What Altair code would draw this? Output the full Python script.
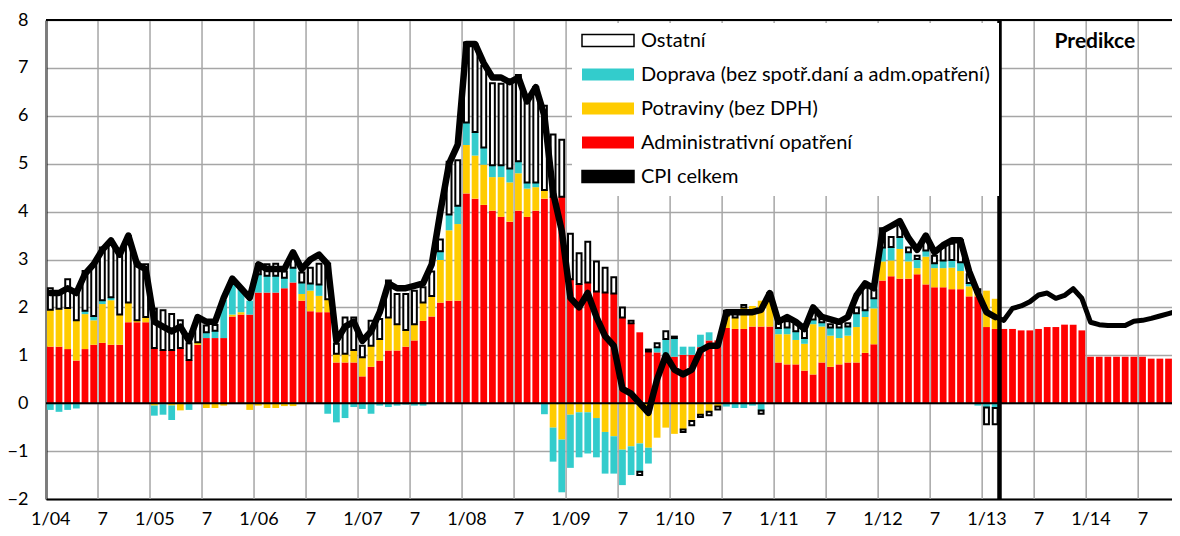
import altair as alt
import pandas as pd

# ---------------- data ----------------
SERIES = ["Ostatní", "Doprava (bez spotř.daní a adm.opatření)", "Potraviny (bez DPH)",
          "Administrativní opatření", "CPI celkem"]
COLORS = ["#FFFFFF", "#33CCCC", "#FFCC00", "#FF0000", "#000000"]
STROKES = ["#000000", "transparent", "transparent", "transparent", "#000000"]

# month index 0 = 1/2004 ... 130 = 11/2014
ADMIN = [1.18, 1.18, 1.13, 0.89, 1.13, 1.22, 1.26, 1.22, 1.22, 1.69, 1.69, 1.69,
         1.15, 1.11, 1.11, 1.15, 0.90, 1.22, 1.36, 1.36, 1.36, 1.81, 1.85, 1.85,
         2.31, 2.31, 2.31, 2.40, 2.52, 2.14, 1.92, 1.90, 1.90, 0.85, 0.85, 0.85,
         0.56, 0.76, 0.89, 1.10, 1.10, 1.18, 1.31, 1.72, 1.81, 2.10, 2.14, 2.14,
         4.38, 4.27, 4.14, 4.02, 3.89, 3.79, 4.02, 3.89, 4.02, 4.27, 4.31, 4.31,
         2.59, 2.49, 2.52, 2.33, 2.31, 2.29, 1.79, 1.67, 1.48, 1.08, 1.06, 0.96,
         0.97, 1.01, 1.01, 1.17, 1.31, 1.31, 1.57, 1.55, 1.55, 1.60, 1.60, 1.60,
         0.85, 0.81, 0.81, 0.68, 0.60, 0.85, 0.76, 0.81, 0.85, 0.85, 1.05, 1.23,
         2.56, 2.65, 2.60, 2.60, 2.69, 2.48, 2.42, 2.42, 2.38, 2.38, 2.23, 2.23,
         1.59, 1.55, 1.55, 1.55, 1.52, 1.52, 1.55, 1.59, 1.59, 1.64, 1.64, 1.52,
         0.97, 0.97, 0.97, 0.97, 0.97, 0.97, 0.97, 0.93, 0.93, 0.93, 0.93]
FOOD = [0.77, 0.79, 0.86, 0.84, 0.73, 0.51, 0.81, 0.93, 0.63, 0.41, 0.04, 0.11,
        -0.05, -0.02, -0.05, -0.15, 0.0, 0.05, -0.10, -0.10, -0.05, 0.04, 0.05, -0.14,
        -0.05, -0.10, -0.10, -0.06, -0.06, 0.14, 0.43, 0.34, 0.27, 0.18, 0.18, 0.26,
        0.40, 0.44, 0.45, 0.69, 0.55, 0.35, 0.34, 0.38, 0.43, 0.89, 1.47, 1.60,
        1.01, 0.90, 0.84, 0.70, 0.83, 0.82, 0.78, 0.59, 0.49, 0.18, -0.51, -0.76,
        -0.24, -0.19, -0.19, -0.31, -0.60, -0.69, -0.97, -0.90, -0.84, -0.93, -0.72, -0.51,
        -0.64, -0.55, -0.37, -0.24, -0.18, -0.07, 0.26, 0.24, 0.45, 0.43, 0.54, 0.55,
        0.59, 0.63, 0.51, 0.56, 1.05, 0.75, 0.65, 0.55, 0.56, 0.74, 0.75, 0.75,
        0.40, 0.33, 0.62, 0.36, 0.13, 0.58, 0.40, 0.40, 0.45, 0.38, 0.21, 0.10,
        0.76, 0.63]
TRANSPORT = [-0.14, -0.18, -0.14, -0.11, 0.07, 0.09, 0.08, 0.06, 0.0, 0.0, 0.0, 0.0,
             -0.21, -0.22, -0.30, 0.0, -0.14, 0.0, 0.12, 0.15, 0.80, 0.75, 0.50, 0.29,
             0.38, 0.35, 0.35, 0.22, 0.31, 0.24, 0.15, 0.24, -0.22, -0.40, -0.31, -0.08,
             -0.12, -0.22, -0.05, -0.08, -0.05, -0.03, -0.05, -0.05, 0.0, 0.18, 0.33, 0.38,
             0.47, 0.49, 0.36, 0.25, 0.25, 0.29, 0.25, 0.13, 0.10, -0.23, -0.71, -1.10,
             -1.11, -0.94, -0.86, -0.82, -0.87, -0.78, -0.74, -0.60, -0.59, -0.33, 0.11, 0.38,
             0.39, 0.17, 0.17, 0.26, 0.17, 0.0, -0.07, -0.10, -0.10, -0.05, -0.15, 0.0,
             0.13, 0.14, 0.18, 0.12, 0.10, 0.09, 0.17, 0.22, 0.19, 0.29, 0.14, 0.21,
             0.29, 0.28, 0.25, 0.19, 0.19, 0.13, 0.10, 0.16, 0.16, 0.18, 0.07, -0.05,
             -0.09, -0.10]
OTHER = [0.45, 0.36, 0.60, 0.55, 0.83, 1.08, 1.10, 1.14, 1.26, 1.39, 1.21, 1.10,
         0.82, 0.83, 0.75, 0.58, 0.35, 0.50, 0.14, 0.12, 0.0, 0.0, 0.0, 0.0,
         0.21, 0.24, 0.25, 0.13, 0.28, 0.21, 0.33, 0.43, 0.74, 0.21, 0.76, 0.68,
         0.24, 0.52, 0.42, 0.77, 0.63, 0.75, 0.70, 0.32, 0.51, 0.25, 1.10, 0.95,
         1.67, 1.83, 1.70, 1.71, 1.70, 1.78, 1.80, 1.75, 1.99, 1.76, 1.30, 1.19,
         0.95, 0.64, 0.85, 0.63, 0.52, 0.34, 0.21, 0.05, -0.07, 0.04, 0.08, 0.16,
         0.03, -0.05, -0.09, -0.05, -0.07, -0.06, 0.10, 0.15, 0.05, 0.0, -0.07, 0.15,
         0.12, 0.13, 0.15, 0.16, 0.20, 0.07, 0.07, 0.08, 0.07, 0.12, 0.47, 0.18,
         0.40, 0.21, 0.29, 0.10, 0.07, 0.26, 0.16, 0.27, 0.34, 0.46, 0.18, 0.05,
         -0.35, -0.34]
CPI = [2.3, 2.3, 2.4, 2.3, 2.7, 2.9, 3.2, 3.4, 3.1, 3.5, 2.9, 2.8,
       1.7, 1.6, 1.5, 1.6, 1.3, 1.8, 1.7, 1.7, 2.2, 2.6, 2.4, 2.2,
       2.9, 2.8, 2.8, 2.8, 3.15, 2.8, 3.0, 3.1, 2.9, 1.3, 1.6, 1.7,
       1.3, 1.5, 1.9, 2.5, 2.4, 2.4, 2.45, 2.5, 2.9, 4.0, 5.0, 5.4,
       7.5, 7.5, 7.1, 6.8, 6.8, 6.7, 6.8, 6.3, 6.6, 6.0, 4.4, 3.6,
       2.2, 2.0, 2.3, 1.8, 1.4, 1.2, 0.3, 0.2, 0.0, -0.2, 0.5, 1.0,
       0.7, 0.6, 0.7, 1.1, 1.2, 1.2, 1.9, 1.9, 1.9, 1.9, 1.95, 2.3,
       1.7, 1.8, 1.7, 1.55, 2.0, 1.8, 1.75, 1.7, 1.8, 2.25, 2.5, 2.4,
       3.6, 3.7, 3.8, 3.45, 3.2, 3.5, 3.15, 3.3, 3.4, 3.4, 2.75, 2.3,
       1.9, 1.8, 1.73, 1.98, 2.03, 2.12, 2.26, 2.30, 2.19, 2.25, 2.39, 2.19,
       1.69, 1.64, 1.62, 1.62, 1.62, 1.71, 1.73, 1.77, 1.82, 1.87, 1.92]
LAST_ACTUAL = 109           # 2/2013
FORECAST_LINE = [109.5]     # boundary between actual data and forecast
X_TICKS = list(range(0, 127, 6))
X_GRID = [t - 0.5 for t in range(0, 127, 6)]
Y_TICKS = list(range(-2, 9))
Y_DOMAIN = [-2, 8]
X_DOMAIN = [-0.5, 129.4]
REF_LINES = [0, 8]
PRED_LABEL = {"t": [120.5], "y": [7.55], "label": ["Predikce"]}

# ---------------- tables ----------------
order_of = {SERIES[3]: 0, SERIES[2]: 1, SERIES[1]: 2, SERIES[0]: 3}
rows = []
for name, vals in [(SERIES[3], ADMIN), (SERIES[2], FOOD), (SERIES[1], TRANSPORT), (SERIES[0], OTHER)]:
    for t, v in enumerate(vals):
        if v:
            rows.append({"t": t, "series": name, "value": v, "order": order_of[name]})
bar_df = pd.DataFrame(rows)
cpi_df = pd.DataFrame({"t": list(range(len(CPI))), "cpi": CPI})

FONT = "Lato"
xscale = alt.Scale(domain=X_DOMAIN, nice=False, zero=False)
yscale = alt.Scale(domain=Y_DOMAIN, nice=False, zero=False)

legend = alt.Legend(
    title=None, orient="none", legendX=526, legendY=3, direction="vertical",
    fillColor="white", padding=9, symbolType="M-1,-0.23H1V0.23H-1Z", symbolSize=2704,
    symbolStrokeWidth=1.5, clipHeight=17, rowPadding=13, labelOffset=6,
    labelFont=FONT, labelFontSize=20, labelColor="black", labelLimit=600, symbolOpacity=1,
)
color = alt.Color("series:N", scale=alt.Scale(domain=SERIES, range=COLORS), legend=legend)
stroke = alt.Stroke("series:N", scale=alt.Scale(domain=SERIES, range=STROKES), legend=legend)

xaxis = alt.Axis(
    title=None, values=X_TICKS, grid=False, ticks=False, tickSize=0, domain=True,
    domainColor="black", domainWidth=2, labelFont=FONT, labelFontSize=18, labelColor="black",
    labelPadding=11, labelAngle=0,
    labelExpr="datum.value % 12 == 0 ? '1/' + (datum.value / 12 + 4 < 10 ? '0' : '') + (datum.value / 12 + 4) : '7'",
)
yaxis = alt.Axis(
    title=None, values=Y_TICKS, grid=True, gridColor="#A6A6A6", gridWidth=1.5, ticks=False,
    tickSize=0, domain=True, domainColor="black", domainWidth=2, labelFont=FONT,
    labelFontSize=18, labelColor="black", labelPadding=18,
)

vgrid = alt.Chart(pd.DataFrame({"g": X_GRID})).mark_rule(
    color="#A6A6A6", strokeWidth=1.5, clip=True
).encode(x=alt.X("g:Q", scale=xscale, axis=xaxis))

bars = alt.Chart(bar_df).transform_stack(
    stack="value", groupby=["t"], as_=["y0", "y1"], sort=[alt.SortField("order", order="ascending")]
).transform_calculate(
    hw="datum.order == 3 ? 0.28 : 0.39",
).transform_calculate(
    xa="datum.t - datum.hw", xb="datum.t + datum.hw"
).mark_bar(strokeWidth=2, clip=True).encode(
    x=alt.X("xa:Q", scale=xscale, axis=xaxis),
    x2="xb:Q",
    y=alt.Y("y0:Q", scale=yscale, axis=yaxis),
    y2="y1:Q",
    color=color,
    stroke=stroke,
)

refs = alt.Chart(pd.DataFrame({"r": REF_LINES})).mark_rule(color="black", strokeWidth=2).encode(
    y=alt.Y("r:Q", scale=yscale, axis=yaxis)
)
forecast = alt.Chart(pd.DataFrame({"f": FORECAST_LINE})).mark_rule(color="black", strokeWidth=4.5).encode(
    x=alt.X("f:Q", scale=xscale, axis=xaxis)
)

line_hist = alt.Chart(cpi_df).transform_filter(f"datum.t <= {LAST_ACTUAL}").mark_line(
    color="black", strokeWidth=6.5, strokeJoin="round", strokeCap="round", clip=True
).encode(
    x=alt.X("t:Q", scale=xscale, axis=xaxis),
    y=alt.Y("cpi:Q", scale=yscale, axis=yaxis),
)
line_pred = alt.Chart(cpi_df).transform_filter(f"datum.t >= {LAST_ACTUAL}").mark_line(
    color="black", strokeWidth=5, strokeJoin="round", strokeCap="round", clip=True
).encode(
    x=alt.X("t:Q", scale=xscale, axis=xaxis),
    y=alt.Y("cpi:Q", scale=yscale, axis=yaxis),
)

pred_text = alt.Chart(pd.DataFrame(PRED_LABEL)).mark_text(
    font=FONT, fontSize=21, fontWeight="bold", color="black", align="center", baseline="middle"
).encode(
    x=alt.X("t:Q", scale=xscale, axis=xaxis),
    y=alt.Y("y:Q", scale=yscale, axis=yaxis),
    text="label:N",
)

chart = alt.layer(vgrid, bars, refs, forecast, line_hist, line_pred, pred_text).properties(
    width=1126, height=479,
    autosize=alt.AutoSizeParams(type="none"),
    padding={"left": 38, "top": 12, "right": 0, "bottom": 29},
    background="white",
).configure_view(stroke=None)

chart.save("out.html", embed_options={"renderer": "svg", "actions": False})
